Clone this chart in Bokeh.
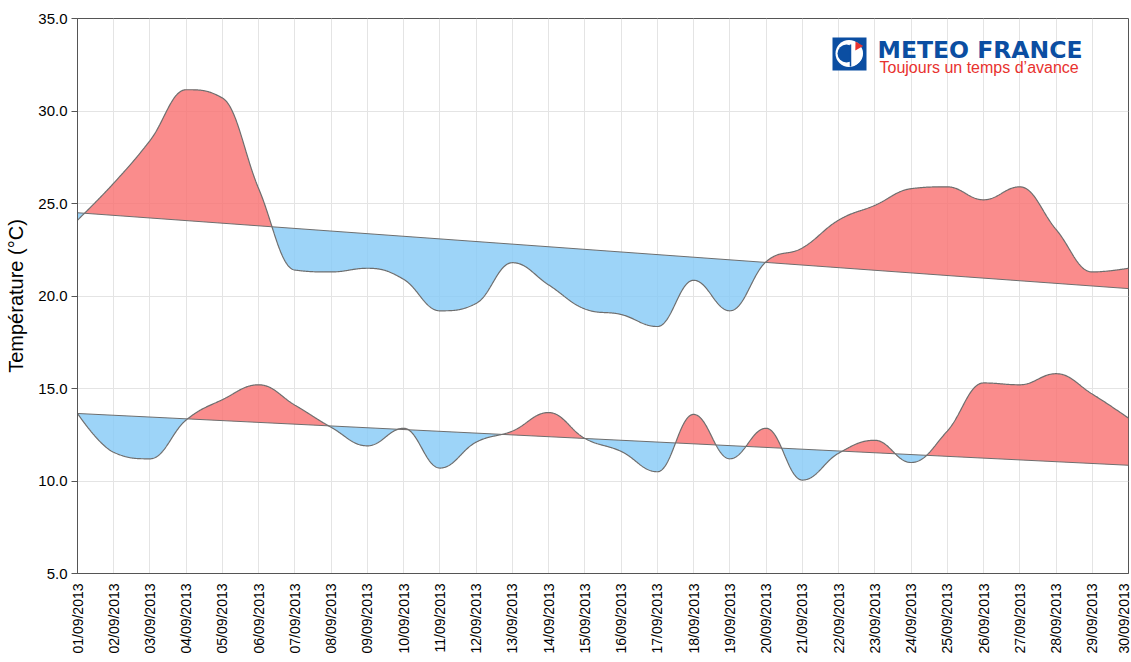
import numpy as np
from bokeh.plotting import figure
from bokeh.models import FixedTicker, NumeralTickFormatter, Label
from bokeh.embed import file_html
from bokeh.resources import INLINE

# ---------------- data ----------------
days = list(range(1, 31))
date_labels = ["%02d/09/2013" % d for d in days]
tmax = [24.1, 26.1, 28.4, 31.15, 30.7, 25.8, 21.4, 21.3, 21.5, 20.9,
        19.2, 19.6, 21.8, 20.6, 19.3, 19.0, 18.35, 20.85, 19.2, 21.85,
        22.6, 24.1, 24.9, 25.8, 25.9, 25.2, 25.9, 23.6, 21.3, 21.5]
tmin = [13.65, 11.55, 11.2, 13.3, 14.4, 15.2, 14.1, 12.9, 11.9, 12.85,
        10.7, 12.1, 12.7, 13.7, 12.3, 11.6, 10.5, 13.6, 11.2, 12.85,
        10.05, 11.5, 12.2, 11.0, 12.7, 15.3, 15.2, 15.8, 14.7, 13.4]
trend_days = [1, 30]
trend_max = [24.5, 20.4]
trend_min = [13.65, 10.85]
y_ticks = [5, 10, 15, 20, 25, 30, 35]

# ---------------- helpers ----------------
def hc_spline(xs, ys, n=60):
    xs = np.asarray(xs, float); ys = np.asarray(ys, float)
    N = len(xs); s = 1.5; d = s + 1
    lc = np.zeros((N, 2)); rc = np.zeros((N, 2))
    for i in range(N):
        px, py = xs[i], ys[i]
        if 0 < i < N - 1:
            lx = (s * px + xs[i - 1]) / d; ly = (s * py + ys[i - 1]) / d
            rx = (s * px + xs[i + 1]) / d; ry = (s * py + ys[i + 1]) / d
            corr = (ry - ly) * (rx - px) / (rx - lx) + py - ry
            ly += corr; ry += corr
            if ly > ys[i - 1] and ly > py:
                ly = max(ys[i - 1], py); ry = 2 * py - ly
            elif ly < ys[i - 1] and ly < py:
                ly = min(ys[i - 1], py); ry = 2 * py - ly
            if ry > ys[i + 1] and ry > py:
                ry = max(ys[i + 1], py); ly = 2 * py - ry
            elif ry < ys[i + 1] and ry < py:
                ry = min(ys[i + 1], py); ly = 2 * py - ry
        else:
            lx, ly, rx, ry = px, py, px, py
        lc[i] = (lx, ly); rc[i] = (rx, ry)
    t = np.linspace(0, 1, n, endpoint=False)
    b0, b1, b2, b3 = (1 - t) ** 3, 3 * (1 - t) ** 2 * t, 3 * (1 - t) * t ** 2, t ** 3
    ox, oy = [], []
    for i in range(N - 1):
        ox.append(b0 * xs[i] + b1 * rc[i][0] + b2 * lc[i + 1][0] + b3 * xs[i + 1])
        oy.append(b0 * ys[i] + b1 * rc[i][1] + b2 * lc[i + 1][1] + b3 * ys[i + 1])
    ox.append([xs[-1]]); oy.append([ys[-1]])
    return np.concatenate(ox), np.concatenate(oy)

# ---------------- figure ----------------
W, H = 1131, 662
ML, MR, MT, MB = 77, 3, 18, 89
p = figure(width=W, height=H, x_range=(1, 30), y_range=(5, 35),
           output_backend="svg", toolbar_location=None,
           min_border_left=ML, min_border_right=MR, min_border_top=MT, min_border_bottom=MB)
p.background_fill_color = "white"
p.border_fill_color = "white"
p.outline_line_color = "#555555"
p.outline_line_width = 1

FONT = "Liberation Sans"
red_fill = "#F96F6F"
blue_fill = "#84C9F6"
line_col = "#6e6e6e"

for series, trend in ((tmax, trend_max), (tmin, trend_min)):
    sx, sy = hc_spline(days, series)
    ty = np.interp(sx, trend_days, trend)
    p.varea(x=sx, y1=ty, y2=np.maximum(sy, ty), fill_color=red_fill, fill_alpha=0.8)
    p.varea(x=sx, y1=np.minimum(sy, ty), y2=ty, fill_color=blue_fill, fill_alpha=0.8)
    p.line(trend_days, trend, line_color=line_col, line_width=1)
    p.line(sx, sy, line_color=line_col, line_width=1.2)

# axes
p.xaxis.ticker = FixedTicker(ticks=days)
p.xaxis.major_label_overrides = {d: lab for d, lab in zip(days, date_labels)}
p.xaxis.major_label_orientation = np.pi / 2
p.xaxis.major_label_text_font = FONT
p.xaxis.major_label_text_font_size = "14px"
p.xaxis.major_label_text_color = "black"
p.xaxis.major_tick_line_color = None
p.xaxis.minor_tick_line_color = None
p.xaxis.axis_line_color = "#555555"
p.xaxis.major_label_standoff = 4

p.yaxis.ticker = FixedTicker(ticks=y_ticks)
p.yaxis.formatter = NumeralTickFormatter(format="0.0")
p.yaxis.major_label_text_font = FONT
p.yaxis.major_label_text_font_size = "15px"
p.yaxis.major_label_text_color = "black"
p.yaxis.major_label_standoff = 4
p.yaxis.major_tick_line_color = "#555555"
p.yaxis.major_tick_out = 6
p.yaxis.major_tick_in = 0
p.yaxis.minor_tick_line_color = None
p.yaxis.axis_line_color = "#555555"
p.yaxis.axis_label = "Température (°C)"
p.yaxis.axis_label_text_font = FONT
p.yaxis.axis_label_text_font_size = "20px"
p.yaxis.axis_label_text_font_style = "normal"
p.yaxis.axis_label_text_color = "black"
p.yaxis.axis_label_standoff = 8

p.xgrid.grid_line_color = "#e4e4e4"
p.ygrid.grid_line_color = "#e4e4e4"

# ---------------- logo (decoration, placed by pixel position) ----------------
FW = W - ML - MR
FH = H - MT - MB
def px2x(px):
    return 1 + (px - ML) / FW * 29
def px2y(py):
    return 35 - (py - MT) / FH * 30

LOGO_BLUE = "#0B4EA2"
LOGO_RED = "#E8322E"
p.quad(left=[px2x(832)], right=[px2x(866)], top=[px2y(37)], bottom=[px2y(70)],
       fill_color=LOGO_BLUE, line_color=None, level="overlay")
cy = px2y(53)
p.circle(x=[px2x(848.5)], y=[cy], radius=13.5, radius_units="screen", fill_color="white", line_color=None, level="overlay")
p.circle(x=[px2x(846)], y=[cy], radius=9, radius_units="screen", fill_color=LOGO_BLUE, line_color=None, level="overlay")
p.wedge(x=[px2x(850)], y=[cy], radius=12.5, radius_units="screen", start_angle=-np.pi / 2, end_angle=np.pi / 2,
        fill_color="white", line_color=None, level="overlay")
p.segment(x0=[px2x(850)], y0=[px2y(44)], x1=[px2x(850)], y1=[px2y(66)], line_color=LOGO_BLUE, line_width=1.5, level="overlay")
p.scatter(x=[px2x(857.5)], y=[px2y(45.5)], marker="triangle", size=9, angle=0.5,
          fill_color=LOGO_RED, line_color=None, level="overlay")

p.add_layout(Label(x=px2x(877), y=px2y(49), text="METEO FRANCE", text_font="DejaVu Sans",
                   text_font_size="23.5px", text_font_style="bold", text_color=LOGO_BLUE,
                   text_baseline="alphabetic", level="overlay"))
p.add_layout(Label(x=px2x(879), y=px2y(66.5), text="Toujours un temps d\u2019avance", text_font=FONT,
                   text_font_size="16px", text_color=LOGO_RED,
                   text_baseline="alphabetic", level="overlay"))

open("out.html", "w").write(file_html(p, INLINE))
